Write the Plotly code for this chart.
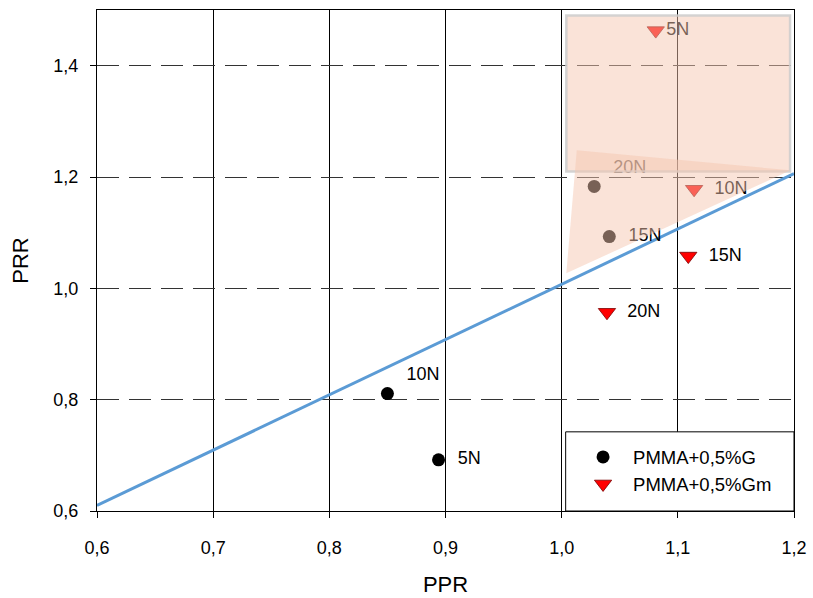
import plotly.graph_objects as go

# ---- data ----
g_ppr = [0.894, 0.850, 1.041, 1.028]
g_prr = [0.692, 0.811, 1.093, 1.183]
g_lbl = ["5N", "10N", "15N", "20N"]

gm_ppr = [1.081, 1.114, 1.109, 1.039]
gm_prr = [1.463, 1.178, 1.058, 0.957]
gm_lbl = ["5N", "10N", "15N", "20N"]

line_x = [0.6, 1.2]
line_y = [0.610, 1.206]

rect_x = [1.004, 1.1966]
rect_y = [1.210, 1.490]

tri_x = [1.013, 1.197, 1.004]
tri_y = [1.248, 1.212, 1.027]

x_ticks = [0.6, 0.7, 0.8, 0.9, 1.0, 1.1, 1.2]
y_ticks = [0.6, 0.8, 1.0, 1.2, 1.4]

# ---- styles ----
g_pos = ["middle right", "top right", "middle right", "top right"]
gm_pos = ["middle right", "middle right", "middle right", "middle right"]
gm_pad = ["", "  ", "  ", "  "]
FONT = "Liberation Sans, Arial, sans-serif"
shade = "rgba(245,198,175,0.49)"

fig = go.Figure()

fig.add_trace(go.Scatter(
    x=line_x, y=line_y, mode="lines",
    line=dict(color="#5B9BD5", width=3), showlegend=False, hoverinfo="skip"))

fig.add_trace(go.Scatter(
    x=g_ppr, y=g_prr, mode="markers+text", name="PMMA+0,5%G",
    text=["  " + t for t in g_lbl], textposition=g_pos,
    textfont=dict(family=FONT, size=18, color="black"),
    marker=dict(symbol="circle", size=13, color="black")))

fig.add_trace(go.Scatter(
    x=gm_ppr, y=gm_prr, mode="markers+text", name="PMMA+0,5%Gm",
    text=[p + t for p, t in zip(gm_pad, gm_lbl)], textposition=gm_pos,
    textfont=dict(family=FONT, size=18, color="black"),
    marker=dict(symbol="triangle-down", size=15, color="red",
                line=dict(color="#7a0000", width=0.8))))

# shaded rectangle
fig.add_shape(type="rect", xref="x", yref="y",
              x0=rect_x[0], x1=rect_x[1], y0=rect_y[0], y1=rect_y[1],
              fillcolor=shade, line=dict(color="rgba(205,205,205,0.85)", width=2.5),
              layer="above")
# shaded triangle
path = "M {} {} L {} {} L {} {} Z".format(tri_x[0], tri_y[0], tri_x[1], tri_y[1], tri_x[2], tri_y[2])
fig.add_shape(type="path", xref="x", yref="y", path=path,
              fillcolor=shade, line=dict(width=0), layer="above")

# legend box
fig.add_shape(type="rect", xref="paper", yref="paper",
              x0=0.6724, x1=1.0, y0=0.0, y1=0.158,
              fillcolor="white", line=dict(color="black", width=1), layer="above")

fig.update_layout(
    width=813, height=598,
    margin=dict(l=97, r=19, t=10, b=87),
    paper_bgcolor="white", plot_bgcolor="white",
    separators=", ",
    font=dict(family=FONT, size=18, color="black"),
    legend=dict(x=0.683, y=0.145, xanchor="left", yanchor="top",
                bgcolor="rgba(0,0,0,0)", borderwidth=0,
                font=dict(family=FONT, size=18.5, color="black"),
                itemwidth=50, tracegroupgap=0),
    xaxis=dict(range=[0.6, 1.2], tickvals=x_ticks, tickformat=".1f",
               showgrid=True, gridcolor="black", gridwidth=1,
               showline=True, linecolor="black", linewidth=1, mirror=True,
               ticks="outside", ticklen=6, tickcolor="black",
               ticklabelstandoff=14, automargin=False,
               zeroline=False,
               title=dict(text="PPR", font=dict(size=22), standoff=20)),
    yaxis=dict(range=[0.6, 1.5], tickvals=y_ticks, tickformat=".1f",
               showgrid=True, gridcolor="#333333", gridwidth=1, griddash="22px,10px",
               showline=True, linecolor="black", linewidth=1, mirror=True,
               ticks="outside", ticklen=6, tickcolor="black",
               ticklabelstandoff=8, automargin=False,
               zeroline=False,
               title=dict(text="PRR", font=dict(size=22), standoff=18)),
)

fig.write_html("out.html")
